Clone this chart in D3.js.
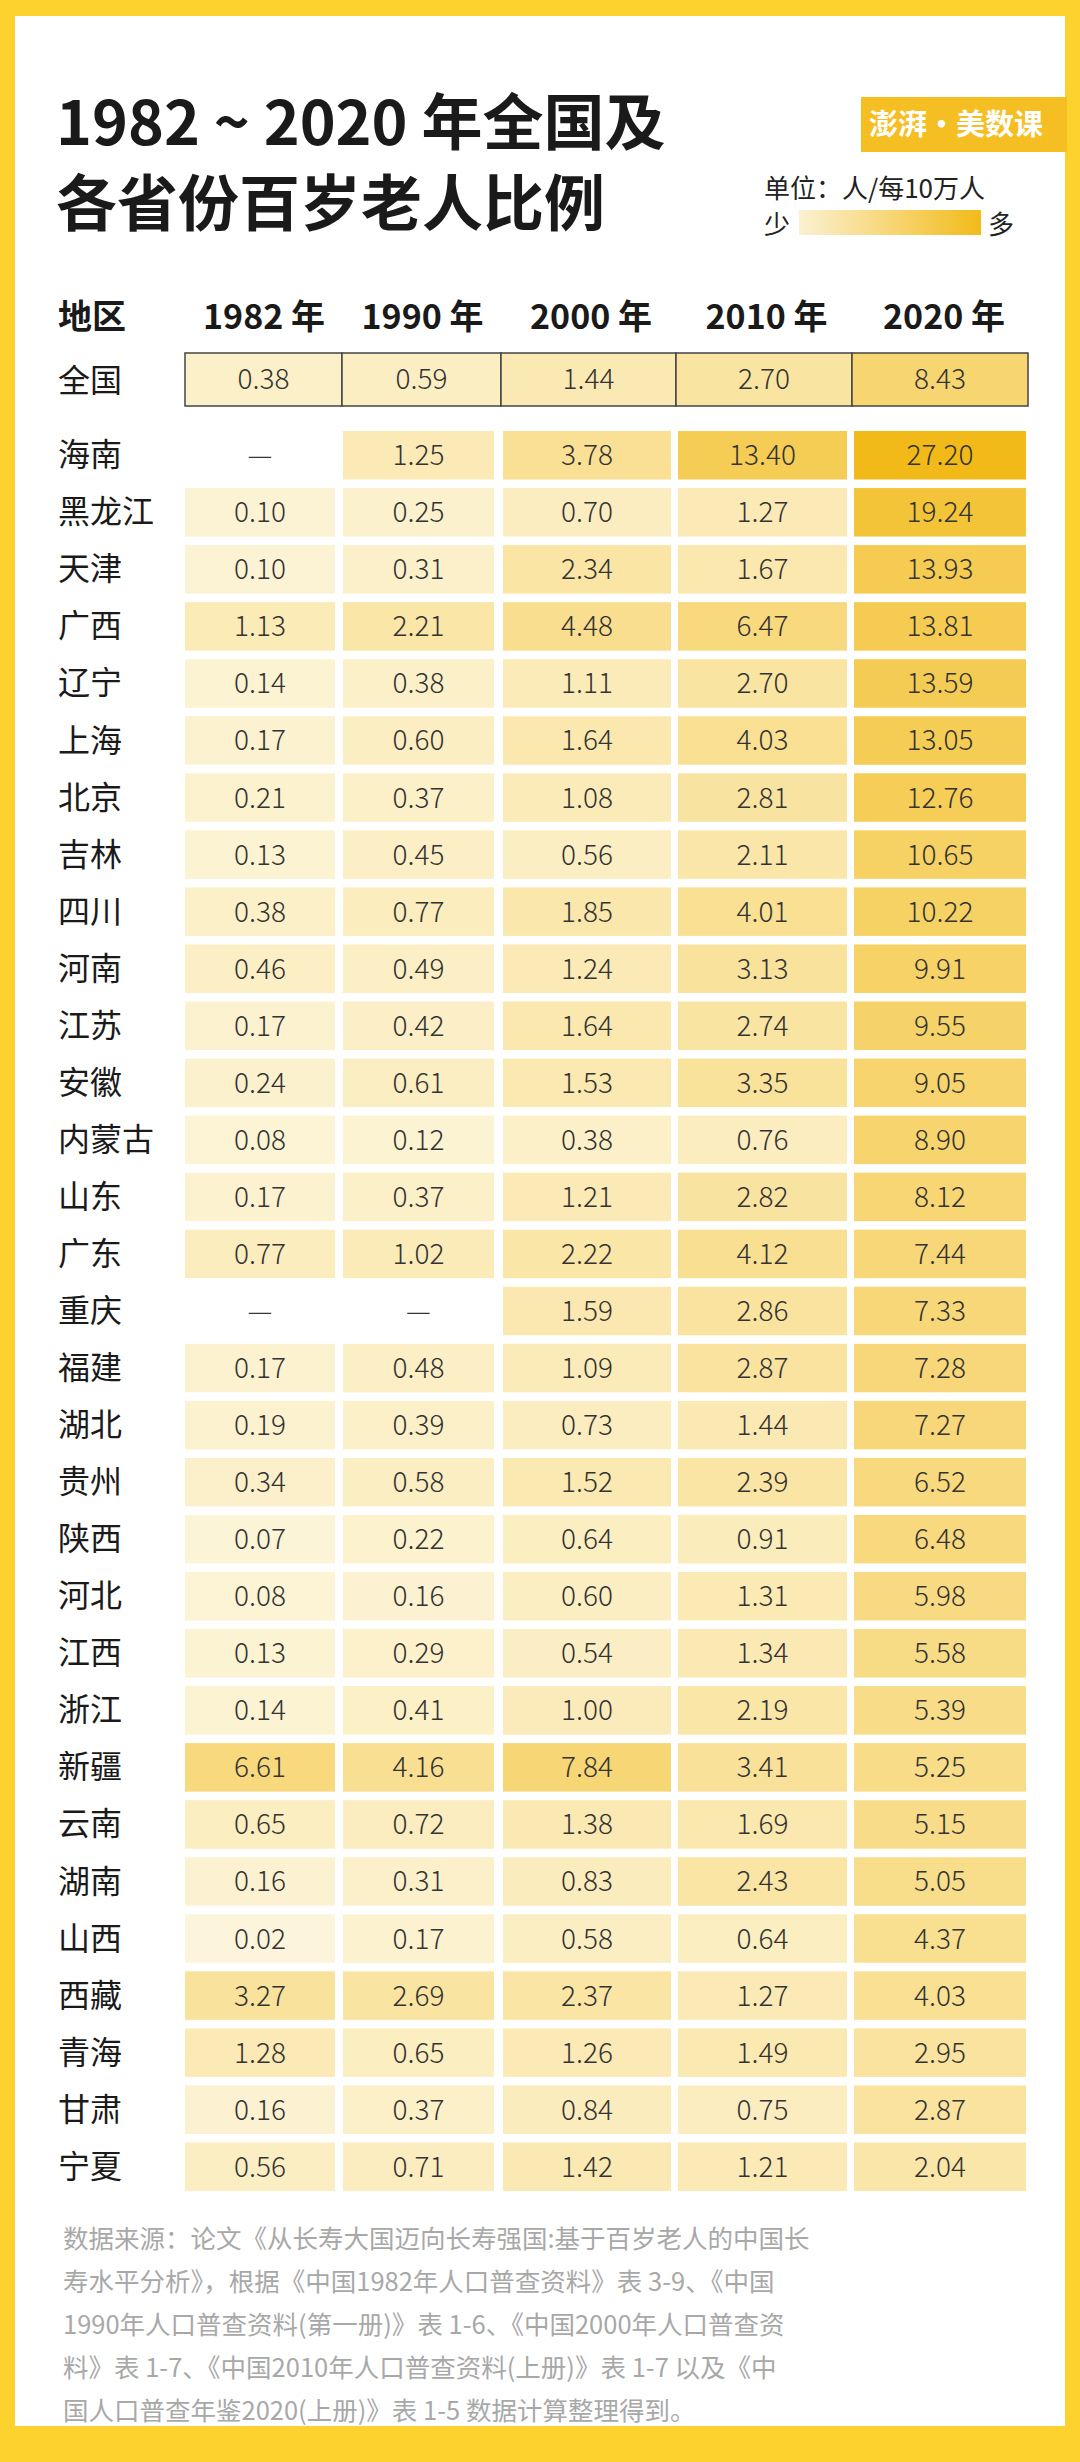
<!DOCTYPE html>
<html><head><meta charset="utf-8">
<script src="https://cdn.jsdelivr.net/npm/d3@7"></script>
<style>body{margin:0;background:#fdd22e}svg{display:block}</style>
</head><body>
<script>
const years = ["1982 年", "1990 年", "2000 年", "2010 年", "2020 年"]
const national = [0.38, 0.59, 1.44, 2.70, 8.43]
const regions = ["海南","黑龙江","天津","广西","辽宁","上海","北京","吉林","四川","河南","江苏","安徽","内蒙古","山东","广东","重庆","福建","湖北","贵州","陕西","河北","江西","浙江","新疆","云南","湖南","山西","西藏","青海","甘肃","宁夏"]
const v1982 = [null,0.10,0.10,1.13,0.14,0.17,0.21,0.13,0.38,0.46,0.17,0.24,0.08,0.17,0.77,null,0.17,0.19,0.34,0.07,0.08,0.13,0.14,6.61,0.65,0.16,0.02,3.27,1.28,0.16,0.56]
const v1990 = [1.25,0.25,0.31,2.21,0.38,0.60,0.37,0.45,0.77,0.49,0.42,0.61,0.12,0.37,1.02,null,0.48,0.39,0.58,0.22,0.16,0.29,0.41,4.16,0.72,0.31,0.17,2.69,0.65,0.37,0.71]
const v2000 = [3.78,0.70,2.34,4.48,1.11,1.64,1.08,0.56,1.85,1.24,1.64,1.53,0.38,1.21,2.22,1.59,1.09,0.73,1.52,0.64,0.60,0.54,1.00,7.84,1.38,0.83,0.58,2.37,1.26,0.84,1.42]
const v2010 = [13.40,1.27,1.67,6.47,2.70,4.03,2.81,2.11,4.01,3.13,2.74,3.35,0.76,2.82,4.12,2.86,2.87,1.44,2.39,0.91,1.31,1.34,2.19,3.41,1.69,2.43,0.64,1.27,1.49,0.75,1.21]
const v2020 = [27.20,19.24,13.93,13.81,13.59,13.05,12.76,10.65,10.22,9.91,9.55,9.05,8.90,8.12,7.44,7.33,7.28,7.27,6.52,6.48,5.98,5.58,5.39,5.25,5.15,5.05,4.37,4.03,2.95,2.87,2.04]
const series = [v1982, v1990, v2000, v2010, v2020]
const footnote = ["数据来源：论文《从长寿大国迈向长寿强国:基于百岁老人的中国长","寿水平分析》，根据《中国1982年人口普查资料》表 3-9、《中国","1990年人口普查资料(第一册)》表 1-6、《中国2000年人口普查资","料》表 1-7、《中国2010年人口普查资料(上册)》表 1-7 以及《中","国人口普查年鉴2020(上册)》表 1-5 数据计算整理得到。"]

const W = 1080, H = 2462
const font = "'Noto Sans CJK SC', 'Noto Sans', sans-serif"
const svg = d3.select("body").append("svg").attr("width", W).attr("height", H).style("font-family", font)
svg.append("rect").attr("width", W).attr("height", H).attr("fill", "#fdd22e")
svg.append("rect").attr("x", 15).attr("y", 16).attr("width", 1050).attr("height", 2410).attr("fill", "#fff")

// title
svg.append("text").attr("x", 56).attr("y", 145).attr("font-size", 61).attr("font-weight", 700).attr("fill", "#1a1a1a").text("1982 ~ 2020 年全国及")
svg.append("text").attr("x", 56).attr("y", 226).attr("font-size", 61).attr("font-weight", 700).attr("fill", "#1a1a1a").text("各省份百岁老人比例")

// logo
svg.append("rect").attr("x", 861).attr("y", 97).attr("width", 206).attr("height", 55).attr("fill", "#f5bf24")
svg.append("text").attr("x", 956).attr("y", 135).attr("text-anchor", "middle").attr("font-size", 29).attr("font-weight", 700).attr("fill", "#fff").text("澎湃·美数课")

// legend
svg.append("text").attr("x", 764).attr("y", 198).attr("font-size", 26).attr("fill", "#222").text("单位：人/每10万人")
svg.append("text").attr("x", 764).attr("y", 234).attr("font-size", 26).attr("fill", "#222").text("少")
svg.append("text").attr("x", 988).attr("y", 234).attr("font-size", 26).attr("fill", "#222").text("多")
const grad = svg.append("defs").append("linearGradient").attr("id", "g")
grad.append("stop").attr("offset", "0%").attr("stop-color", "#fbf1d2")
grad.append("stop").attr("offset", "100%").attr("stop-color", "#f2bb1a")
svg.append("rect").attr("x", 799).attr("y", 210).attr("width", 182).attr("height", 25).attr("fill", "url(#g)")

const color = d3.scaleSqrt().domain([0, 27.2]).range(["#fdf7e0", "#f2ba18"])

const cols = [[185, 335], [343, 494], [503, 671], [678, 847], [854, 1026]]
const colCenter = cols.map(c => (c[0] + c[1]) / 2)

// header
svg.append("text").attr("x", 58).attr("y", 329).attr("font-size", 34).attr("font-weight", 700).attr("fill", "#1a1a1a").text("地区")
svg.selectAll(".yr").data(years).enter().append("text")
  .attr("x", (d, i) => colCenter[i] + 4).attr("y", 329).attr("text-anchor", "middle")
  .attr("font-size", 34).attr("font-weight", 700).attr("fill", "#1a1a1a").text(d => d)

const fmt = d3.format(".2f")

// national row
const natEdges = [185, 342, 501, 676, 852, 1028]
svg.append("text").attr("x", 58).attr("y", 392).attr("font-size", 32).attr("fill", "#1a1a1a").text("全国")
svg.selectAll(".nat").data(national).enter().append("rect")
  .attr("x", (d, i) => natEdges[i]).attr("y", 353)
  .attr("width", (d, i) => natEdges[i + 1] - natEdges[i]).attr("height", 53)
  .attr("fill", d => color(d)).attr("stroke", "#444").attr("stroke-width", 1.5)
svg.selectAll(".natt").data(national).enter().append("text")
  .attr("x", (d, i) => (natEdges[i] + natEdges[i + 1]) / 2).attr("y", 389).attr("text-anchor", "middle")
  .attr("font-size", 28).attr("font-weight", 300).attr("fill", "#333").text(d => fmt(d))

// province rows
const y = d3.scaleBand().domain(regions).range([431, 2191]).paddingInner(0.15)
const rows = svg.selectAll(".row").data(regions).enter().append("g")
  .attr("transform", d => `translate(0,${y(d)})`)
rows.append("text").attr("x", 58).attr("y", y.bandwidth() / 2 + 11).attr("font-size", 32).attr("fill", "#1a1a1a").text(d => d)
series.forEach((s, j) => {
  rows.filter((d, i) => s[i] != null).append("rect")
    .attr("x", cols[j][0]).attr("width", cols[j][1] - cols[j][0]).attr("height", y.bandwidth())
    .attr("fill", d => color(s[regions.indexOf(d)]))
  rows.append("text").attr("x", colCenter[j]).attr("y", y.bandwidth() / 2 + 10).attr("text-anchor", "middle")
    .attr("font-size", 28).attr("font-weight", 300).attr("fill", "#333")
    .text((d, i) => s[i] == null ? "—" : fmt(s[i]))
})

// footnote
svg.selectAll(".fn").data(footnote).enter().append("text")
  .attr("x", 63).attr("y", (d, i) => 2248 + i * 43).attr("font-size", 25.5).attr("fill", "#a8a8a8").text(d => d)
</script>
</body></html>
